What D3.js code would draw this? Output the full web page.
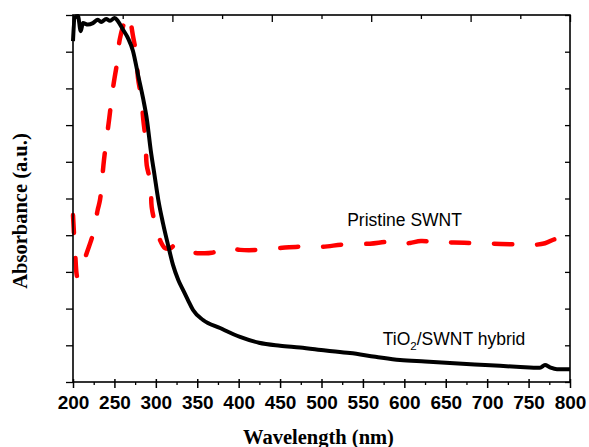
<!DOCTYPE html>
<html>
<head>
<meta charset="utf-8">
<script src="https://cdn.jsdelivr.net/npm/d3@7"></script>
<style>
  body { margin: 0; background: #fff; }
</style>
</head>
<body>
<div id="chart"></div>
<script>
// UV-vis absorbance spectra, TiO2/SWNT hybrid vs pristine SWNT

// wavelength (nm) and absorbance (a.u.)
const hybridWl = [200, 202, 206, 209.3, 212, 218, 224, 230, 234, 240, 244.7, 250.3, 254.3, 260.4, 266.4, 272.4,
  278.5, 284.5, 289.3, 293.8, 298.4, 303, 308.6, 315, 320.7, 327.1, 332.8, 338.8, 344.9, 357, 377.5, 401.6,
  424.5, 450, 474, 505, 534.4, 565, 594.8, 625, 655, 685, 715.5, 740, 763.8, 769.8, 775.8, 784.3, 800];
const hybridAbs = [0.929, 0.992, 0.997, 0.956, 0.978, 0.974, 0.978, 0.987, 0.981, 0.989, 0.984, 0.992, 0.983, 0.960, 0.937, 0.902,
  0.837, 0.774, 0.714, 0.632, 0.564, 0.496, 0.433, 0.371, 0.319, 0.278, 0.251, 0.223, 0.196, 0.169, 0.147, 0.123,
  0.107, 0.099, 0.094, 0.086, 0.079, 0.069, 0.060, 0.056, 0.052, 0.048, 0.044, 0.041, 0.039, 0.046, 0.040, 0.035, 0.035];

const pristineWl = [200, 202.4, 205.4, 208.5, 216.5, 224.5, 229.8, 232.6, 237.4, 243.8, 248.3, 253.5, 256.4, 263.1,
  266.4, 269.4, 272.4, 276.4, 278.5, 282.5, 284.9, 287.8, 289, 293.8, 295, 300.2, 305, 311, 317.1, 323.2, 329.2,
  334, 339.2, 353.3, 367.4, 375, 383.5, 401.6, 425.7, 449.9, 474, 498.2, 528.4, 558.5, 582.7, 595, 606.8, 620,
  631, 643, 655.1, 679.2, 703.4, 733.6, 751.7, 769.8, 781.9, 787.9, 800];
const pristineAbs = [0.455, 0.360, 0.286, 0.300, 0.351, 0.406, 0.469, 0.496, 0.605, 0.719, 0.801, 0.875, 0.933, 0.987,
  1.0, 0.981, 0.943, 0.892, 0.828, 0.774, 0.714, 0.655, 0.591, 0.542, 0.477, 0.422, 0.387, 0.365, 0.364, 0.373, 0.369,
  0.362, 0.355, 0.351, 0.352, 0.358, 0.366, 0.360, 0.360, 0.365, 0.369, 0.368, 0.375, 0.377, 0.382, 0.376, 0.379, 0.384,
  0.382, 0.376, 0.380, 0.379, 0.377, 0.375, 0.373, 0.378, 0.389, 0.388, 0.379];

const xTickValues = [200, 250, 300, 350, 400, 450, 500, 550, 600, 650, 700, 750, 800];

const width = 589;
const height = 447;
const margin = { top: 15, right: 19, bottom: 65, left: 73 };
const innerW = width - margin.left - margin.right;
const innerH = height - margin.top - margin.bottom;

const svg = d3.select("#chart")
  .append("svg")
  .attr("width", width)
  .attr("height", height);

const g = svg.append("g")
  .attr("transform", `translate(${margin.left},${margin.top})`);

const x = d3.scaleLinear().domain([200, 800]).range([0, innerW]);
const y = d3.scaleLinear().domain([0, 1]).range([innerH, 0]);

const sans = "'Liberation Sans', Arial, sans-serif";
const serif = "'Liberation Serif', 'Times New Roman', serif";

// curves
g.append("path")
  .datum(pristineWl.map((w, i) => [w, pristineAbs[i]]))
  .attr("d", d3.line().x(d => x(d[0])).y(d => y(d[1])).curve(d3.curveCatmullRom))
  .attr("fill", "none")
  .attr("stroke", "#ff0000")
  .attr("stroke-width", 4.5)
  .attr("stroke-linecap", "round")
  .attr("stroke-dasharray", "18,25");

g.append("path")
  .datum(hybridWl.map((w, i) => [w, hybridAbs[i]]))
  .attr("d", d3.line().x(d => x(d[0])).y(d => y(d[1])).curve(d3.curveMonotoneX))
  .attr("fill", "none")
  .attr("stroke", "#000")
  .attr("stroke-width", 4)
  .attr("stroke-linejoin", "round");

// frame
g.append("rect")
  .attr("width", innerW)
  .attr("height", innerH)
  .attr("fill", "none")
  .attr("stroke", "#000")
  .attr("stroke-width", 1.6);

// bottom axis
const xAxis = g.append("g")
  .attr("transform", `translate(0,${innerH})`)
  .call(d3.axisBottom(x).tickValues(xTickValues).tickSize(6).tickPadding(8));
xAxis.select(".domain").remove();
xAxis.selectAll(".tick line").attr("y1", -3).attr("stroke-width", 1.5);
xAxis.selectAll(".tick text")
  .attr("font-family", sans)
  .attr("font-weight", "bold")
  .attr("font-size", 19)
  .attr("fill", "#000");

const xMinor = g.append("g")
  .attr("transform", `translate(0,${innerH})`)
  .call(d3.axisBottom(x).tickValues(d3.range(225, 800, 50)).tickSize(3).tickFormat(""));
xMinor.select(".domain").remove();
xMinor.selectAll(".tick line").attr("stroke-width", 1.3);

// top axis ticks (no labels)
const topTicks = d3.range(200, 801, 60);
const xTop = g.append("g")
  .call(d3.axisTop(x).tickValues(topTicks).tickSize(0).tickFormat(""));
xTop.select(".domain").remove();
xTop.selectAll(".tick line")
  .attr("y2", (d, i) => i % 2 === 0 ? 7 : 4)
  .attr("stroke-width", 1.3);

// left and right ticks (no labels)
const yTicks = d3.range(0, 1.01, 0.1);
const yLeft = g.append("g")
  .call(d3.axisLeft(y).tickValues(yTicks).tickSize(7).tickFormat(""));
yLeft.select(".domain").remove();
yLeft.selectAll(".tick line").attr("stroke-width", 1.3);

const yRight = g.append("g")
  .attr("transform", `translate(${innerW},0)`)
  .call(d3.axisLeft(y).tickValues(yTicks).tickSize(5).tickFormat(""));
yRight.select(".domain").remove();
yRight.selectAll(".tick line").attr("stroke-width", 1.3);

// axis titles
svg.append("text")
  .attr("x", margin.left + innerW / 2 - 3)
  .attr("y", 444)
  .attr("text-anchor", "middle")
  .attr("font-family", serif)
  .attr("font-weight", "bold")
  .attr("font-size", 20.5)
  .text("Wavelength (nm)");

svg.append("text")
  .attr("transform", `translate(27,211) rotate(-90)`)
  .attr("text-anchor", "middle")
  .attr("font-family", serif)
  .attr("font-weight", "bold")
  .attr("font-size", 20.5)
  .text("Absorbance (a.u.)");

// curve labels
g.append("text")
  .attr("x", x(531))
  .attr("y", y(0.425))
  .attr("font-family", sans)
  .attr("font-size", 17.5)
  .text("Pristine SWNT");

const hl = g.append("text")
  .attr("x", x(574))
  .attr("y", y(0.101))
  .attr("font-family", sans)
  .attr("font-size", 17.5);
hl.append("tspan").text("TiO");
hl.append("tspan").attr("font-size", 11.5).attr("dy", 5).text("2");
hl.append("tspan").attr("dy", -5).text("/SWNT hybrid");
</script>
</body>
</html>
